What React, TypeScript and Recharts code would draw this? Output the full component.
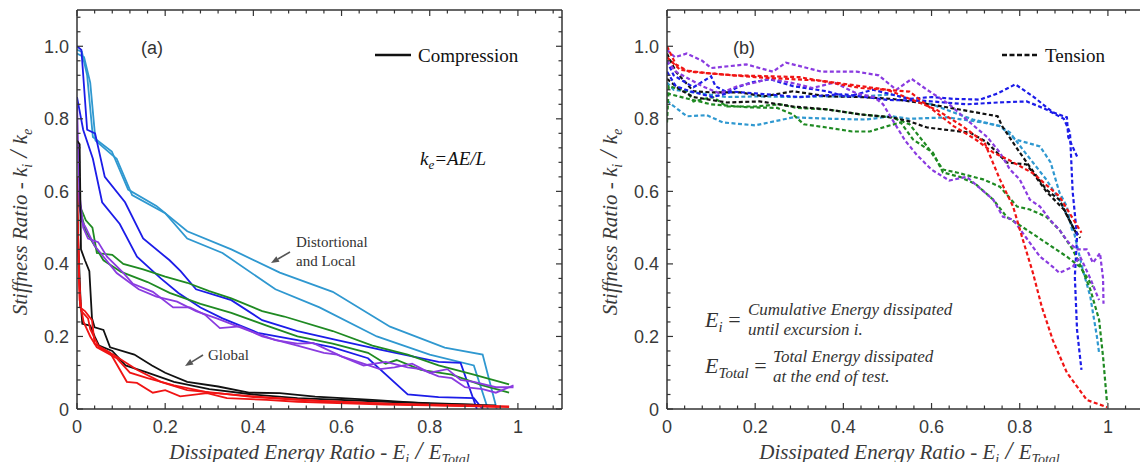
import { LineChart, Line, XAxis, YAxis, Customized } from "recharts";

const SERIF = "Liberation Serif, Times New Roman, serif";
const SANS = "Liberation Sans, Arial, sans-serif";

const axisTicks = [
  0, 0.04, 0.08, 0.12, 0.16, 0.2, 0.24, 0.28, 0.32, 0.36, 0.4, 0.44, 0.48, 0.52,
  0.56, 0.6, 0.64, 0.68, 0.72, 0.76, 0.8, 0.84, 0.88, 0.92, 0.96, 1, 1.04, 1.08,
];
const xTickLabels = ["0", "0.2", "0.4", "0.6", "0.8", "1"];
const yTickLabels = ["0", "0.2", "0.4", "0.6", "0.8", "1.0"];

// (a) compression – [energy ratio, stiffness ratio]
const aLightBlue1 = [[0, 0.99], [0.011, 0.985], [0.023, 0.92], [0.036, 0.75], [0.079, 0.71], [0.116, 0.605], [0.18, 0.56], [0.25, 0.49], [0.35, 0.44], [0.46, 0.376], [0.58, 0.323], [0.71, 0.227], [0.834, 0.169], [0.92, 0.15], [0.952, 0]];
const aLightBlue2 = [[0, 0.98], [0.016, 0.97], [0.03, 0.9], [0.042, 0.74], [0.09, 0.69], [0.125, 0.59], [0.2, 0.54], [0.25, 0.47], [0.33, 0.43], [0.45, 0.33], [0.55, 0.28], [0.68, 0.2], [0.8, 0.15], [0.9, 0.12], [0.932, 0]];
const aBlue1 = [[0, 1.0], [0.01, 0.99], [0.023, 0.77], [0.041, 0.76], [0.063, 0.64], [0.109, 0.57], [0.15, 0.47], [0.21, 0.41], [0.235, 0.38], [0.27, 0.33], [0.35, 0.3], [0.42, 0.245], [0.5, 0.215], [0.59, 0.19], [0.69, 0.163], [0.82, 0.13], [0.87, 0.127], [0.907, 0]];
const aBlue2 = [[0, 0.86], [0.014, 0.77], [0.036, 0.69], [0.057, 0.57], [0.097, 0.51], [0.136, 0.42], [0.19, 0.36], [0.23, 0.32], [0.28, 0.28], [0.33, 0.25], [0.41, 0.21], [0.5, 0.19], [0.58, 0.17], [0.66, 0.14], [0.75, 0.04], [0.82, 0.033], [0.9, 0.03], [0.92, 0]];
const aGreen1 = [[0, 0.6], [0.01, 0.55], [0.02, 0.52], [0.035, 0.5], [0.045, 0.43], [0.08, 0.425], [0.105, 0.4], [0.15, 0.385], [0.2, 0.365], [0.25, 0.348], [0.3, 0.325], [0.35, 0.305], [0.42, 0.27], [0.47, 0.255], [0.58, 0.215], [0.67, 0.175], [0.75, 0.15], [0.82, 0.12], [0.9, 0.095], [0.98, 0.068]];
const aGreen2 = [[0, 0.58], [0.02, 0.49], [0.06, 0.41], [0.1, 0.378], [0.16, 0.35], [0.21, 0.32], [0.28, 0.29], [0.35, 0.265], [0.43, 0.23], [0.5, 0.2], [0.58, 0.18], [0.66, 0.155], [0.7, 0.125], [0.725, 0.135], [0.78, 0.108], [0.85, 0.095], [0.92, 0.065], [0.98, 0.045]];
const aPurple1 = [[0, 0.85], [0.005, 0.6], [0.014, 0.5], [0.025, 0.47], [0.048, 0.46], [0.068, 0.42], [0.105, 0.375], [0.127, 0.345], [0.172, 0.323], [0.218, 0.28], [0.256, 0.28], [0.29, 0.26], [0.324, 0.223], [0.37, 0.228], [0.42, 0.2], [0.5, 0.175], [0.56, 0.155], [0.59, 0.15], [0.65, 0.12], [0.7, 0.13], [0.75, 0.115], [0.78, 0.11], [0.82, 0.09], [0.85, 0.085], [0.88, 0.06], [0.92, 0.055], [0.95, 0.045], [0.99, 0.065]];
const aPurple2 = [[0, 0.62], [0.01, 0.52], [0.02, 0.5], [0.04, 0.45], [0.09, 0.375], [0.14, 0.33], [0.18, 0.31], [0.227, 0.296], [0.27, 0.27], [0.317, 0.25], [0.385, 0.218], [0.45, 0.19], [0.5, 0.18], [0.535, 0.182], [0.6, 0.145], [0.687, 0.11], [0.72, 0.115], [0.76, 0.125], [0.8, 0.1], [0.84, 0.11], [0.87, 0.08], [0.9, 0.075], [0.95, 0.06], [0.99, 0.06]];
const aBlack1 = [[0, 0.74], [0.006, 0.73], [0.009, 0.44], [0.018, 0.41], [0.028, 0.38], [0.034, 0.25], [0.04, 0.225], [0.06, 0.218], [0.075, 0.17], [0.13, 0.15], [0.17, 0.12], [0.2, 0.1], [0.25, 0.075], [0.32, 0.062], [0.39, 0.045], [0.46, 0.044], [0.54, 0.034], [0.67, 0.025], [0.8, 0.015], [0.95, 0.01]];
const aBlack2 = [[0, 0.55], [0.008, 0.3], [0.012, 0.235], [0.03, 0.23], [0.04, 0.2], [0.05, 0.175], [0.08, 0.16], [0.11, 0.12], [0.16, 0.1], [0.22, 0.075], [0.3, 0.055], [0.4, 0.04], [0.5, 0.03], [0.7, 0.02], [0.9, 0.012]];
const aRed1 = [[0, 0.64], [0.003, 0.45], [0.007, 0.28], [0.018, 0.27], [0.034, 0.245], [0.04, 0.18], [0.075, 0.155], [0.113, 0.075], [0.136, 0.072], [0.172, 0.045], [0.2, 0.052], [0.234, 0.035], [0.295, 0.044], [0.34, 0.03], [0.43, 0.025], [0.5, 0.02], [0.7, 0.012], [0.9, 0.008], [0.98, 0.005]];
const aRed2 = [[0, 0.6], [0.005, 0.35], [0.01, 0.27], [0.025, 0.25], [0.03, 0.22], [0.05, 0.17], [0.082, 0.15], [0.136, 0.108], [0.19, 0.075], [0.25, 0.052], [0.32, 0.044], [0.4, 0.033], [0.5, 0.025], [0.7, 0.015], [0.9, 0.01], [0.98, 0.007]];
const aRed3 = [[0, 0.56], [0.006, 0.3], [0.015, 0.24], [0.03, 0.2], [0.045, 0.17], [0.09, 0.14], [0.12, 0.1], [0.16, 0.085], [0.22, 0.065], [0.3, 0.045], [0.4, 0.035], [0.55, 0.022], [0.75, 0.012], [0.96, 0.006]];

// (b) tension
const bRed1 = [[0, 1.0], [0.02, 0.95], [0.05, 0.93], [0.15, 0.92], [0.3, 0.915], [0.44, 0.885], [0.55, 0.875], [0.65, 0.78], [0.7, 0.743], [0.74, 0.707], [0.77, 0.69], [0.83, 0.65], [0.89, 0.586], [0.94, 0.486]];
const bRed2 = [[0, 0.97], [0.03, 0.935], [0.1, 0.925], [0.2, 0.915], [0.35, 0.905], [0.5, 0.88], [0.61, 0.826], [0.67, 0.78], [0.72, 0.735], [0.755, 0.633], [0.785, 0.558], [0.807, 0.467], [0.83, 0.375], [0.85, 0.282], [0.875, 0.19], [0.907, 0.1], [0.952, 0.025], [0.998, 0.005]];
const bBlack1 = [[0, 0.98], [0.02, 0.93], [0.06, 0.876], [0.1, 0.873], [0.165, 0.873], [0.22, 0.862], [0.286, 0.876], [0.363, 0.862], [0.44, 0.86], [0.51, 0.855], [0.57, 0.845], [0.62, 0.835], [0.69, 0.82], [0.75, 0.807], [0.76, 0.78], [0.8, 0.707], [0.86, 0.605], [0.89, 0.577], [0.92, 0.503], [0.937, 0.472]];
const bBlack2 = [[0, 0.91], [0.03, 0.88], [0.06, 0.86], [0.136, 0.845], [0.21, 0.848], [0.286, 0.834], [0.363, 0.826], [0.44, 0.812], [0.51, 0.804], [0.55, 0.793], [0.59, 0.776], [0.687, 0.762], [0.726, 0.735], [0.77, 0.68], [0.816, 0.674], [0.86, 0.6], [0.9, 0.55], [0.93, 0.48]];
const bBlue1 = [[0, 0.96], [0.015, 0.92], [0.06, 0.887], [0.1, 0.917], [0.11, 0.89], [0.136, 0.873], [0.16, 0.887], [0.19, 0.9], [0.234, 0.909], [0.286, 0.89], [0.363, 0.876], [0.408, 0.86], [0.467, 0.88], [0.5, 0.87], [0.55, 0.855], [0.6, 0.86], [0.65, 0.855], [0.71, 0.853], [0.75, 0.87], [0.79, 0.895], [0.83, 0.862], [0.875, 0.818], [0.907, 0.804], [0.91, 0.75], [0.93, 0.696]];
const bBlue2 = [[0, 0.93], [0.02, 0.89], [0.052, 0.876], [0.104, 0.86], [0.15, 0.875], [0.2, 0.87], [0.3, 0.86], [0.4, 0.868], [0.5, 0.852], [0.58, 0.85], [0.68, 0.84], [0.75, 0.845], [0.816, 0.848], [0.86, 0.826], [0.9, 0.8], [0.914, 0.762], [0.92, 0.6], [0.93, 0.475], [0.925, 0.365], [0.93, 0.218], [0.94, 0.108]];
const bLightBlue1 = [[0, 0.9], [0.015, 0.88], [0.06, 0.873], [0.136, 0.86], [0.21, 0.862], [0.286, 0.86], [0.363, 0.862], [0.44, 0.862], [0.51, 0.867], [0.6, 0.84], [0.694, 0.798], [0.755, 0.78], [0.79, 0.743], [0.846, 0.724], [0.87, 0.68], [0.89, 0.597], [0.907, 0.558], [0.92, 0.486]];
const bLightBlue2 = [[0, 0.85], [0.01, 0.84], [0.045, 0.807], [0.09, 0.81], [0.127, 0.79], [0.2, 0.782], [0.286, 0.804], [0.376, 0.8], [0.45, 0.798], [0.51, 0.807], [0.55, 0.8], [0.635, 0.804], [0.717, 0.79], [0.755, 0.78], [0.778, 0.762], [0.807, 0.715], [0.86, 0.633], [0.89, 0.577], [0.92, 0.503], [0.943, 0.384], [0.96, 0.31], [0.975, 0.2], [0.98, 0.155]];
const bGreen1 = [[0, 0.79], [0.004, 0.89], [0.045, 0.876], [0.06, 0.848], [0.104, 0.86], [0.136, 0.834], [0.2, 0.834], [0.256, 0.84], [0.295, 0.83], [0.363, 0.826], [0.44, 0.812], [0.51, 0.804], [0.55, 0.785], [0.59, 0.724], [0.626, 0.66], [0.657, 0.652], [0.717, 0.633], [0.755, 0.613], [0.794, 0.558], [0.823, 0.55], [0.86, 0.53], [0.89, 0.494], [0.92, 0.44], [0.94, 0.39], [0.96, 0.33], [0.98, 0.246], [0.989, 0.144], [0.998, 0.017]];
const bGreen2 = [[0, 0.87], [0.052, 0.854], [0.1, 0.84], [0.18, 0.832], [0.25, 0.83], [0.286, 0.812], [0.31, 0.785], [0.363, 0.776], [0.42, 0.765], [0.46, 0.765], [0.5, 0.78], [0.53, 0.79], [0.558, 0.743], [0.603, 0.707], [0.626, 0.652], [0.664, 0.64], [0.7, 0.62], [0.74, 0.577], [0.77, 0.53], [0.816, 0.494], [0.86, 0.458], [0.907, 0.42], [0.937, 0.392], [0.966, 0.337]];
const bPurple1 = [[0, 0.99], [0.018, 0.97], [0.045, 0.98], [0.08, 0.96], [0.1, 0.94], [0.18, 0.95], [0.24, 0.93], [0.27, 0.955], [0.35, 0.93], [0.43, 0.93], [0.48, 0.92], [0.52, 0.88], [0.555, 0.91], [0.59, 0.88], [0.64, 0.84], [0.687, 0.79], [0.726, 0.75], [0.755, 0.707], [0.778, 0.66], [0.8, 0.633], [0.823, 0.577], [0.846, 0.558], [0.87, 0.52], [0.89, 0.494], [0.91, 0.46], [0.93, 0.44], [0.952, 0.44], [0.966, 0.403], [0.982, 0.43], [0.989, 0.36], [0.99, 0.29]];
const bPurple2 = [[0, 0.96], [0.02, 0.93], [0.05, 0.91], [0.08, 0.89], [0.12, 0.87], [0.16, 0.89], [0.2, 0.9], [0.23, 0.91], [0.28, 0.9], [0.33, 0.885], [0.38, 0.9], [0.43, 0.87], [0.47, 0.86], [0.49, 0.84], [0.51, 0.8], [0.54, 0.74], [0.567, 0.7], [0.6, 0.66], [0.64, 0.63], [0.68, 0.64], [0.74, 0.577], [0.762, 0.53], [0.785, 0.522], [0.816, 0.47], [0.846, 0.42], [0.875, 0.392], [0.89, 0.375], [0.92, 0.392], [0.937, 0.42], [0.96, 0.36], [0.98, 0.3]];

const LBLUE = "#2f98d0";
const BLUE = "#1c1ce8";
const GREEN = "#1f8a22";
const PURPLE = "#8a3be0";
const BLACK = "#111111";
const RED = "#f01414";

const compressionSeries = [
  { id: "lb1", color: LBLUE, pts: aLightBlue1 },
  { id: "lb2", color: LBLUE, pts: aLightBlue2 },
  { id: "b1", color: BLUE, pts: aBlue1 },
  { id: "b2", color: BLUE, pts: aBlue2 },
  { id: "g1", color: GREEN, pts: aGreen1 },
  { id: "g2", color: GREEN, pts: aGreen2 },
  { id: "p1", color: PURPLE, pts: aPurple1 },
  { id: "p2", color: PURPLE, pts: aPurple2 },
  { id: "k1", color: BLACK, pts: aBlack1 },
  { id: "k2", color: BLACK, pts: aBlack2 },
  { id: "r1", color: RED, pts: aRed1 },
  { id: "r2", color: RED, pts: aRed2 },
  { id: "r3", color: RED, pts: aRed3 },
];

const tensionSeries = [
  { id: "lb1", color: LBLUE, pts: bLightBlue1 },
  { id: "lb2", color: LBLUE, pts: bLightBlue2 },
  { id: "g1", color: GREEN, pts: bGreen1 },
  { id: "g2", color: GREEN, pts: bGreen2 },
  { id: "k1", color: BLACK, pts: bBlack1 },
  { id: "k2", color: BLACK, pts: bBlack2 },
  { id: "b1", color: BLUE, pts: bBlue1 },
  { id: "b2", color: BLUE, pts: bBlue2 },
  { id: "p1", color: PURPLE, pts: bPurple1 },
  { id: "p2", color: PURPLE, pts: bPurple2 },
  { id: "r1", color: RED, pts: bRed1 },
  { id: "r2", color: RED, pts: bRed2 },
];

const toPts = (arr: number[][]) => arr.map(([x, y]) => ({ x, y }));
const isMajor = (v: number) => Math.abs(v * 5 - Math.round(v * 5)) < 1e-6;

const TICK_COLOR = "#333";
const LABEL_COLOR = "#3a3a3a";
const sans = { fontFamily: SANS };
const serif = { fontFamily: SERIF };
const serifItalic = { fontFamily: SERIF, fontStyle: "italic" as const };

function BottomTick({ x, y, payload }: any) {
  const v = payload.value;
  const major = isMajor(v);
  return (
    <g>
      <line x1={x} x2={x} y1={y} y2={y - (major ? 6 : 3.5)} stroke={TICK_COLOR} strokeWidth={1.2} />
      {major && (
        <text x={x} y={y + 24} textAnchor="middle" style={sans} fontSize={18} fill={LABEL_COLOR}>
          {xTickLabels[Math.round(v * 5)]}
        </text>
      )}
    </g>
  );
}

function TopTick({ x, y, payload }: any) {
  const major = isMajor(payload.value);
  return <line x1={x} x2={x} y1={y} y2={y + (major ? 6 : 3.5)} stroke={TICK_COLOR} strokeWidth={1.2} />;
}

function LeftTick({ x, y, payload }: any) {
  const v = payload.value;
  const major = isMajor(v);
  return (
    <g>
      <line x1={x} x2={x + (major ? 6 : 3.5)} y1={y} y2={y} stroke={TICK_COLOR} strokeWidth={1.2} />
      {major && (
        <text x={x - 8} y={y + 6.5} textAnchor="end" style={sans} fontSize={18} fill={LABEL_COLOR}>
          {yTickLabels[Math.round(v * 5)]}
        </text>
      )}
    </g>
  );
}

function RightTick({ x, y, payload }: any) {
  const major = isMajor(payload.value);
  return <line x1={x} x2={x - (major ? 6 : 3.5)} y1={y} y2={y} stroke={TICK_COLOR} strokeWidth={1.2} />;
}

function Arrow({ x1, y1, x2, y2 }: { x1: number; y1: number; x2: number; y2: number }) {
  const a = Math.atan2(y2 - y1, x2 - x1);
  const L = 8;
  const W = 3.2;
  const bx = x2 - L * Math.cos(a);
  const by = y2 - L * Math.sin(a);
  const px = -Math.sin(a) * W;
  const py = Math.cos(a) * W;
  return (
    <g>
      <line x1={x1} y1={y1} x2={bx} y2={by} stroke="#555" strokeWidth={1.6} />
      <polygon points={`${x2},${y2} ${bx + px},${by + py} ${bx - px},${by - py}`} fill="#555" />
    </g>
  );
}

function AxisTitles() {
  return (
    <g fill="#3a3a3a">
      <text x={319.5} y={459} textAnchor="middle" fontSize={21} style={serifItalic}>
        Dissipated Energy Ratio - E<tspan dy={5} fontSize={14}>i</tspan>
        <tspan dy={-5} fontSize={25}> / </tspan>E<tspan dy={5} fontSize={14}>Total</tspan>
      </text>
      <text x={27} y={222} transform="rotate(-90 27 222)" textAnchor="middle" fontSize={21} style={serifItalic}>
        Stiffness Ratio - k<tspan dy={5} fontSize={14}>i</tspan>
        <tspan dy={-5} fontSize={25}> / </tspan>k<tspan dy={5} fontSize={14}>e</tspan>
      </text>
    </g>
  );
}

function AnnotationsA() {
  return (
    <g>
      <AxisTitles />
      <text x={152} y={54} textAnchor="middle" style={sans} fontSize={18} fill="#333">(a)</text>
      <line x1={375} x2={411} y1={55} y2={55} stroke="#111" strokeWidth={2.6} />
      <text x={418} y={62} style={serif} fontSize={19} fill="#111">Compression</text>
      <text x={420} y={165} style={serifItalic} fontSize={19} fill="#111">
        k<tspan dy={4} fontSize={13}>e</tspan><tspan dy={-4}>=AE/L</tspan>
      </text>
      <text x={296} y={247} style={serif} fontSize={15} fill="#333">Distortional</text>
      <text x={296} y={266} style={serif} fontSize={15} fill="#333">and Local</text>
      <Arrow x1={290} y1={252} x2={271} y2={263} />
      <text x={208} y={360} style={serif} fontSize={15} fill="#333">Global</text>
      <Arrow x1={203} y1={355} x2={185} y2={366} />
    </g>
  );
}

function AnnotationsB() {
  return (
    <g>
      <AxisTitles />
      <text x={154} y={54} textAnchor="middle" style={sans} fontSize={18} fill="#333">(b)</text>
      <line x1={412} x2={448} y1={55} y2={55} stroke="#111" strokeWidth={2.6} strokeDasharray="5 2.5" />
      <text x={455} y={62} style={serif} fontSize={19} fill="#111">Tension</text>
      <g fill="#333">
        <text x={115} y={327} fontSize={22} style={serifItalic}>
          E<tspan dy={5} fontSize={15}>i</tspan><tspan dy={-5} style={{ fontStyle: "normal" }}> =</tspan>
        </text>
        <text x={158} y={315} fontSize={17} style={serifItalic}>Cumulative Energy dissipated</text>
        <text x={158} y={335} fontSize={17} style={serifItalic}>until excursion i.</text>
        <text x={115} y={373} fontSize={22} style={serifItalic}>
          E<tspan dy={5} fontSize={15}>Total</tspan><tspan dy={-5} style={{ fontStyle: "normal" }}> =</tspan>
        </text>
        <text x={183} y={362} fontSize={17} style={serifItalic}>Total Energy dissipated</text>
        <text x={183} y={382} fontSize={17} style={serifItalic}>at the end of test.</text>
      </g>
    </g>
  );
}

function Panel({ series, dashed, annotations }: { series: typeof compressionSeries; dashed: boolean; annotations: any }) {
  const common = {
    type: "number" as const,
    domain: [0, 1.1],
    allowDataOverflow: true,
    ticks: axisTicks,
    interval: 0,
    tickSize: 0,
    tickMargin: 0,
    tickLine: false,
    axisLine: { stroke: TICK_COLOR, strokeWidth: 1.5 },
  };
  return (
    <LineChart width={570} height={470} margin={{ top: 9, right: 7, bottom: 31, left: 37 }}>
      <XAxis xAxisId="b" dataKey="x" {...common} tick={<BottomTick />} height={30} />
      <XAxis xAxisId="t" orientation="top" dataKey="x" {...common} tick={<TopTick />} height={1} />
      <YAxis yAxisId="l" {...common} tick={<LeftTick />} width={40} />
      <YAxis yAxisId="r" orientation="right" {...common} tick={<RightTick />} width={1} />
      {series.map((s) => (
        <Line
          key={s.id}
          xAxisId="b"
          yAxisId="l"
          data={toPts(s.pts)}
          dataKey="y"
          type="linear"
          stroke={s.color}
          strokeWidth={dashed ? 2.2 : 1.8}
          strokeDasharray={dashed ? "4 2.5" : undefined}
          dot={false}
          activeDot={false}
          isAnimationActive={false}
        />
      ))}
      <Customized component={annotations} />
    </LineChart>
  );
}

export default function App() {
  return (
    <div style={{ position: "relative", width: 1148, height: 470, margin: -8, overflow: "hidden", background: "#fff", fontFamily: SERIF }}>
      <div style={{ position: "absolute", left: 0, top: 0 }}>
        <Panel series={compressionSeries} dashed={false} annotations={AnnotationsA} />
      </div>
      <div style={{ position: "absolute", left: 590, top: 0 }}>
        <Panel series={tensionSeries} dashed={true} annotations={AnnotationsB} />
      </div>
    </div>
  );
}
